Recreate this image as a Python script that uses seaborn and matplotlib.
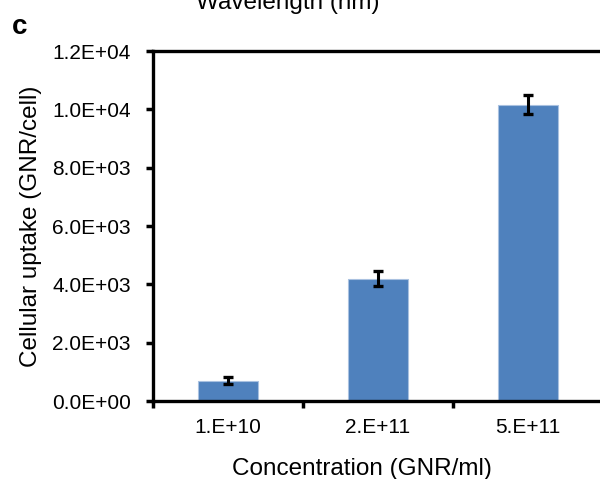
import matplotlib
matplotlib.use("Agg")
import matplotlib.pyplot as plt
import seaborn as sns
import pandas as pd

# Cellular uptake of gold nanorods at three dosing concentrations
concentrations = ["1.E+10", "2.E+11", "5.E+11"]
uptake = [700, 4200, 10160]
uptake_err = [120, 260, 320]
y_ticks = [0, 2000, 4000, 6000, 8000, 10000, 12000]
y_tick_labels = ["0.0E+00", "2.0E+03", "4.0E+03", "6.0E+03", "8.0E+03", "1.0E+04", "1.2E+04"]

sns.set_style("white")
plt.rcParams["font.family"] = ["Liberation Sans", "DejaVu Sans"]
plt.rcParams["text.color"] = "black"
plt.rcParams["axes.labelcolor"] = "black"
plt.rcParams["xtick.color"] = "black"
plt.rcParams["ytick.color"] = "black"

df = pd.DataFrame({"conc": concentrations, "uptake": uptake})

fig = plt.figure(figsize=(6.0, 4.79), dpi=100)
ax = fig.add_axes([0.255, 0.1628, 0.75, 0.7307])

sns.barplot(data=df, x="conc", y="uptake", color="#4F81BD", saturation=1,
            width=0.4, edgecolor="#A9C1E0", linewidth=0.8, ax=ax, errorbar=None)
ax.errorbar(range(len(concentrations)), uptake, yerr=uptake_err, fmt="none",
            ecolor="black", elinewidth=2.2, capsize=3.5, capthick=2.4)

ax.set_xlim(-0.5, 2.5)
ax.set_ylim(0, 12000)
ax.set_yticks(y_ticks)
ax.set_yticklabels(y_tick_labels)

# category boundary ticks on the x axis
ax.set_xticks([-0.5, 0.5, 1.5, 2.5], minor=False)
ax.set_xticklabels([])
ax.set_xticks([0, 1, 2], minor=True)
ax.set_xticklabels(concentrations, minor=True)
ax.tick_params(axis="x", which="major", direction="out", length=5, width=2.5, bottom=True)
ax.tick_params(axis="x", which="minor", length=0, labelsize=15, pad=12)
ax.tick_params(axis="y", direction="out", length=5, width=2.5, left=True,
               labelsize=15, pad=11)

for side in ["left", "bottom", "top"]:
    ax.spines[side].set_visible(True)
    ax.spines[side].set_linewidth(2.4)
    ax.spines[side].set_color("black")
ax.spines["right"].set_visible(False)

ax.set_xlabel("Concentration (GNR/ml)", fontsize=17.5)
ax.set_ylabel("Cellular uptake (GNR/cell)", fontsize=17.5)
ax.xaxis.set_label_coords(0.464, -0.162)
ax.yaxis.set_label_coords(-0.246, 0.5)

fig.text(0.02, 0.93, "c", fontsize=20, fontweight="bold", va="baseline")
fig.text(0.479, 0.981, "Wavelength (nm)", fontsize=17.5, ha="center", va="baseline")

fig.savefig("out.png", dpi=100)
